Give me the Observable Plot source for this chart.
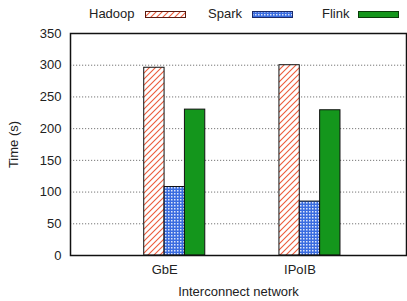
<!DOCTYPE html>
<html><head><meta charset="utf-8">
<script src="https://cdn.jsdelivr.net/npm/d3@7"></script>
<script src="https://cdn.jsdelivr.net/npm/@observablehq/plot@0.6"></script>
<style>
body{margin:0;background:#fff;font-family:"Liberation Sans",Arial,sans-serif;}
#legend{position:relative;width:407px;height:25px;font-size:13px;color:#222;}
.lt{position:absolute;top:6px;line-height:16px;}
.sw{position:absolute;top:11px;}
</style></head><body>
<svg width="0" height="0" style="position:absolute">
<defs>
<pattern id="hatch" patternUnits="userSpaceOnUse" width="6" height="6">
 <rect width="6" height="6" fill="#fff"/>
 <path d="M-1,1 l2,-2 M0,6 l6,-6 M5,7 l2,-2" stroke="#ec5b3b" stroke-width="1.1"/>
</pattern>
<pattern id="dots" patternUnits="userSpaceOnUse" width="3" height="3">
 <rect width="3" height="3" fill="#3a6ce0"/>
 <rect width="1.5" height="1.5" fill="#dde6fa"/>
</pattern>
</defs></svg>
<div id="legend"></div>
<div id="chart"></div>
<script>
const groups = ["GbE", "IPoIB"];
const series = ["Hadoop", "Spark", "Flink"];
const hadoop = [296, 300];
const spark = [108, 85];
const flink = [230, 229];
const yTicks = [0, 50, 100, 150, 200, 250, 300, 350];
const xLabel = "Interconnect network";
const yLabel = "Time (s)";

const values = {Hadoop: hadoop, Spark: spark, Flink: flink};
const fills = ["url(#hatch)", "url(#dots)", "#14961c"];
const borders = ["#5a1a10", "#1a2a6a", "#0a3a0a"];
const rows = groups.flatMap((g, i) => series.map((s, j) => ({group: g, gi: i, series: s, sj: j, value: values[s][i]})));
const bw = 0.1505;

// legend
const legend = document.getElementById("legend");
const legPos = [[89, 145], [208, 252], [322, 358]];
series.forEach((s, j) => {
  const t = document.createElement("span");
  t.className = "lt"; t.textContent = s; t.style.left = legPos[j][0] + "px";
  legend.appendChild(t);
  const sw = document.createElementNS("http://www.w3.org/2000/svg", "svg");
  sw.setAttribute("class", "sw"); sw.setAttribute("width", 41); sw.setAttribute("height", 7);
  sw.style.left = legPos[j][1] + "px";
  sw.innerHTML = `<rect x="0.5" y="0.5" width="40" height="6" fill="${fills[j]}" stroke="${borders[j]}" stroke-width="1"/>`;
  legend.appendChild(sw);
});

const chart = Plot.plot({
  width: 407, height: 276,
  marginLeft: 70, marginRight: 1, marginTop: 8, marginBottom: 46,
  style: {fontFamily: "Liberation Sans, Arial, sans-serif", fontSize: "13px", color: "#222", background: "#fff"},
  x: {domain: [-0.771, 1.714]},
  y: {domain: [0, 350]},
  color: {domain: series, range: fills},
  marks: [
    Plot.ruleY(yTicks.slice(1, -1), {stroke: "#777", strokeDasharray: "1.2,1.8"}),
    Plot.rectY(rows, {
      x1: d => d.gi + (d.sj - 1.5) * bw,
      x2: d => d.gi + (d.sj - 0.5) * bw,
      y1: 0, y2: "value", fill: "series", stroke: "#111", strokeWidth: 1
    }),
    Plot.axisY({ticks: yTicks, tickSize: 0, tickPadding: 9, label: yLabel, labelAnchor: "center", labelArrow: false, labelOffset: 62}),
    Plot.axisX({ticks: [0, 1], tickFormat: i => groups[i], tickSize: 0, tickPadding: 9, dx: -10, label: xLabel, labelAnchor: "center", labelArrow: false, labelOffset: 40}),
    Plot.frame({stroke: "#111", strokeWidth: 1.5})
  ]
});
document.getElementById("chart").appendChild(chart);
</script>
</body></html>
